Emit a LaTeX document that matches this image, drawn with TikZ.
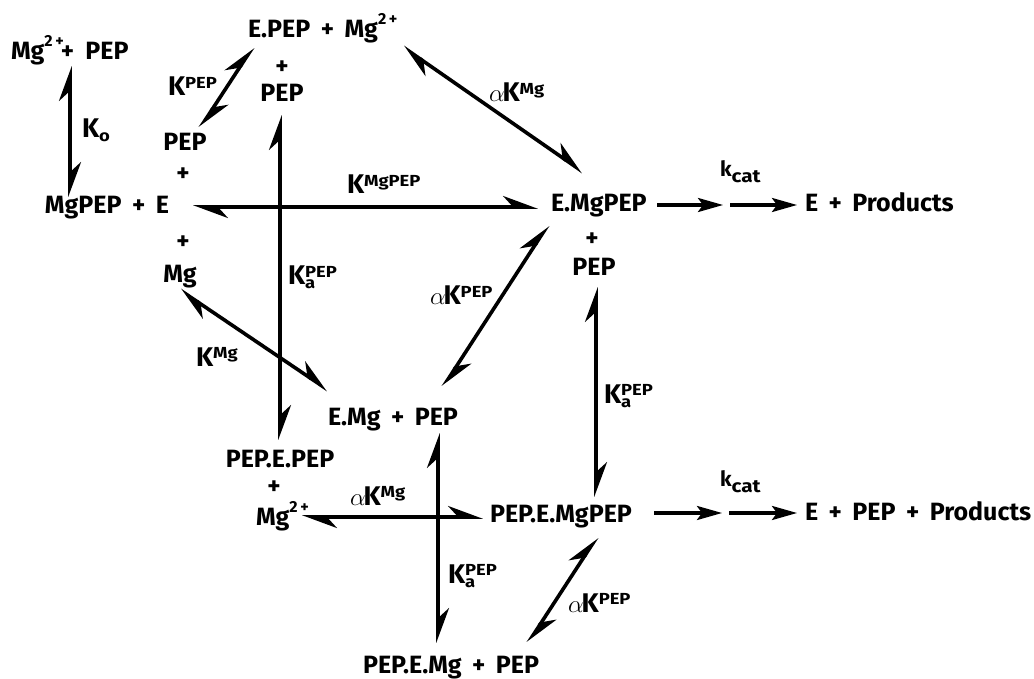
\documentclass[tikz,border=0pt]{standalone}
\usepackage{fontspec}
\setmainfont{Fira Sans}
\usetikzlibrary{arrows.meta}
\newcommand{\smallf}{\fontsize{16}{16}\selectfont}
\newcommand{\up}[1]{\raisebox{7.5pt}{\scalebox{1.15}[1]{\smallf #1}}}
\newcommand{\dn}[1]{\raisebox{-4pt}{\scalebox{1.15}[1]{\smallf #1}}}
\newcommand{\updn}[2]{\rlap{\dn{#2}}\up{#1}}
\newcommand{\ion}{\raisebox{13pt}{\smallf 2\,+}}
\newcommand{\pl}{\hskip 0.42em+\hskip 0.42em}
\newcommand{\al}{{\fontsize{29}{30}\selectfont$\alpha$}\kern-2pt}
\newcommand{\kcat}{{\fontsize{21}{22}\selectfont k}\raisebox{-6pt}{\scalebox{1.15}[1]{\fontsize{18}{18}\selectfont cat}}}
\begin{document}
\begin{tikzpicture}[x=1pt,y=-1pt,
  txt/.style={inner sep=0pt,outer sep=0pt,font=\fontsize{25}{28}\selectfont\bfseries},
  lbl/.style={inner sep=0pt,outer sep=0pt,anchor=base west,font=\fontsize{27}{30}\selectfont\bfseries},
  rev/.style={line width=3.6pt,
    {Stealth[harpoon,length=30pt,width=22pt,inset=10pt]}-{Stealth[harpoon,length=30pt,width=22pt,inset=10pt]}},
  fwd/.style={line width=3.2pt,-{Stealth[length=25pt,width=14pt,inset=5pt]}}]
\useasboundingbox (0,0) rectangle (1034,679);
% species
\node[txt,anchor=base west] (A) at (11,60) {Mg\ion\kern-3pt+\hskip0.45em PEP};
\node[txt,anchor=base west] (C) at (248,38) {E.PEP\pl Mg\ion};
\node[txt] (Cp) at (282,68) {+};
\node[txt,anchor=base] (Cq) at (282,102) {PEP};
\node[txt,anchor=base] (Dp) at (185,151) {PEP};
\node[txt] (Dq) at (183,175) {+};
\node[txt] (Dr) at (183,243) {+};
\node[txt,anchor=base] (Ds) at (180,283) {Mg};
\node[txt,anchor=base west] (B) at (45,214) {MgPEP\pl E};
\node[txt,anchor=base west] (E) at (551,212) {E.MgPEP};
\node[txt] (Ep) at (592,240) {+};
\node[txt,anchor=base] (Eq) at (594,276) {PEP};
\node[txt,anchor=base west] (F) at (805,212) {E\pl Products};
\node[txt,anchor=base west] (G) at (328,425) {E.Mg\pl PEP};
\node[txt,anchor=base] (H) at (280,467) {PEP.E.PEP};
\node[txt] (Hp) at (274,488) {+};
\node[txt,anchor=base west] (Hq) at (256,525) {Mg\ion};
\node[txt,anchor=base west] (I) at (490,522) {PEP.E.MgPEP};
\node[txt,anchor=base west] (J) at (805,520) {E\pl PEP\pl Products};
\node[txt,anchor=base west] (K) at (363,673) {PEP.E.Mg\pl PEP};
% labels
\node[lbl] (l1) at (82,138) {K\dn{o}};
\node[lbl] (l2) at (168,96) {K\up{PEP}};
\node[lbl] (l3) at (347,194) {K\up{MgPEP}};
\node[lbl] (l4) at (489,102) {\al K\up{Mg}};
\node[lbl] (l5) at (288,285) {K\updn{PEP}{a}};
\node[lbl] (l6) at (196,366) {K\up{Mg}};
\node[lbl] (l7) at (430,305) {\al K\up{PEP}};
\node[lbl] (l8) at (604,403) {K\updn{PEP}{a}};
\node[lbl] (l9) at (720,177) {\kcat};
\node[lbl] (l10) at (720,486) {\kcat};
\node[lbl] (l11) at (350,505) {\al K\up{Mg}};
\node[lbl] (l12) at (448,583) {K\updn{PEP}{a}};
\node[lbl] (l13) at (568,612) {\al K\up{PEP}};
% arrow end points
\coordinate (a1) at (70,197); \coordinate (a2) at (70,66);
\coordinate (b1) at (200,128); \coordinate (b2) at (253,47);
\coordinate (c1) at (280,115); \coordinate (c2) at (280,440);
\coordinate (d1) at (193,207); \coordinate (d2) at (538,207);
\coordinate (e1) at (403,47); \coordinate (e2) at (583,172);
\coordinate (f1) at (548,225); \coordinate (f2) at (443,387);
\coordinate (g1) at (180,290); \coordinate (g2) at (328,390);
\coordinate (h1) at (596,287); \coordinate (h2) at (596,497);
\coordinate (i1) at (302,517); \coordinate (i2) at (483,517);
\coordinate (j1) at (438,433); \coordinate (j2) at (438,643);
\coordinate (k1) at (597,537); \coordinate (k2) at (528,643);
\coordinate (m1) at (657,205); \coordinate (m2) at (723,205);
\coordinate (m3) at (730,205); \coordinate (m4) at (797,205);
\coordinate (n1) at (654,513); \coordinate (n2) at (722,513);
\coordinate (n3) at (729,513); \coordinate (n4) at (797,513);
% connectors
\draw[rev] (a1) -- (a2);
\draw[rev] (b1) -- (b2);
\draw[rev] (c1) -- (c2);
\draw[rev] (d1) -- (d2);
\draw[rev] (e1) -- (e2);
\draw[rev] (f1) -- (f2);
\draw[rev] (g1) -- (g2);
\draw[rev] (h1) -- (h2);
\draw[rev] (i1) -- (i2);
\draw[rev] (j1) -- (j2);
\draw[rev] (k1) -- (k2);
\draw[fwd] (m1) -- (m2);
\draw[fwd] (m3) -- (m4);
\draw[fwd] (n1) -- (n2);
\draw[fwd] (n3) -- (n4);
\end{tikzpicture}
\end{document}
